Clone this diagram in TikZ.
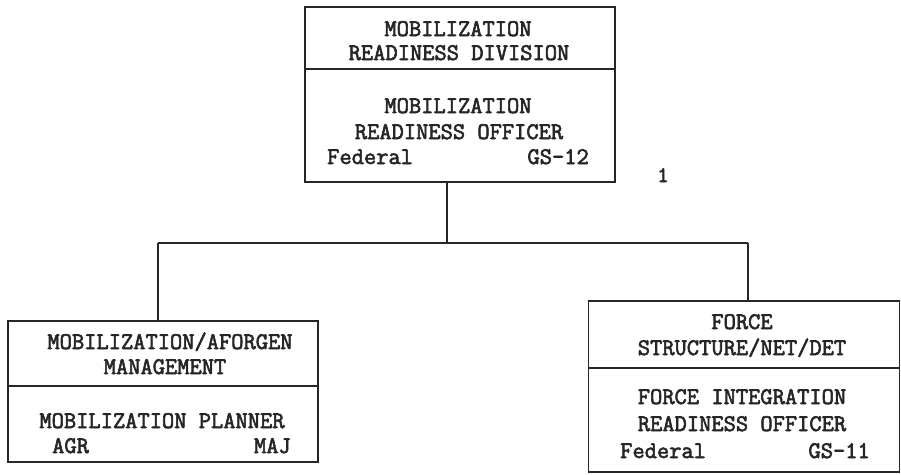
\documentclass[tikz,border=0pt]{standalone}
\usepackage{fontspec}
\setmonofont{Latin Modern Mono}[AutoFakeBold=2.6]
\begin{document}
\begin{tikzpicture}[x=1pt,y=-1pt,
  box/.style={draw=black!85, line width=1.3pt, rectangle, inner sep=0pt},
  lbl/.style={font=\fontsize{23.8}{25}\selectfont\ttfamily\bfseries, text=black!85, inner sep=0pt, anchor=base},
  conn/.style={draw=black!85, line width=1.3pt}]
\useasboundingbox (0,0) rectangle (901,474);
% top box
\node[box, minimum width=310pt, minimum height=62pt] (tophead) at (460,38) {};
\node[box, minimum width=310pt, minimum height=113pt] (topbody) at (460,125.5) {};
\node[lbl] (t1) at (458,36) {MOBILIZATION};
\node[lbl] (t2) at (459,60) {READINESS DIVISION};
\node[lbl] (t3) at (458,113) {MOBILIZATION};
\node[lbl] (t4) at (459,139) {READINESS OFFICER};
\node[lbl, anchor=base west] (t5) at (327,164) {Federal};
\node[lbl, anchor=base east] (t6) at (589,164) {GS-12};
\node[font=\fontsize{22}{24}\selectfont\ttfamily\bfseries, text=black!85, inner sep=0pt, anchor=base] (one) at (663,182) {1};
% left box
\node[box, minimum width=310pt, minimum height=65pt] (lefthead) at (163,353.5) {};
\node[box, minimum width=310pt, minimum height=76pt] (leftbody) at (163,424) {};
\node[lbl] (l1) at (170,349) {MOBILIZATION/AFORGEN};
\node[lbl] (l2) at (165,374) {MANAGEMENT};
\node[lbl] (l3) at (162,428) {MOBILIZATION PLANNER};
\node[lbl, anchor=base west] (l4) at (52,453) {AGR};
\node[lbl, anchor=base east] (l5) at (291,453) {MAJ};
% right box
\node[box, minimum width=311pt, minimum height=67pt] (righthead) at (744,334.5) {};
\node[box, minimum width=311pt, minimum height=104pt] (rightbody) at (744,420) {};
\node[lbl] (r1) at (742,329) {FORCE};
\node[lbl] (r2) at (742,355) {STRUCTURE/NET/DET};
\node[lbl] (r3) at (742,404) {FORCE INTEGRATION};
\node[lbl] (r4) at (742,431) {READINESS OFFICER};
\node[lbl, anchor=base west] (r5) at (620,458) {Federal};
\node[lbl, anchor=base east] (r6) at (870,458) {GS-11};
% connectors
\coordinate (stemtop) at (topbody.south -| 447,0);
\coordinate (junction) at (447,243);
\coordinate (lefttop) at (158,243);
\coordinate (righttop) at (748,243);
\draw[conn] (stemtop) -- (junction);
\draw[conn] (lefttop) -- (righttop);
\draw[conn] (lefttop) -- (lefthead.north -| lefttop);
\draw[conn] (righttop) -- (righthead.north -| righttop);
\end{tikzpicture}
\end{document}
